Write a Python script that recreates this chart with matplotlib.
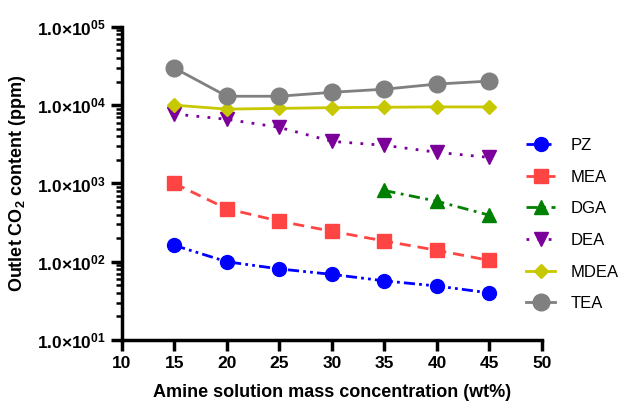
import math
import matplotlib
matplotlib.use("Agg")
import matplotlib.pyplot as plt
from matplotlib.ticker import FixedLocator, FuncFormatter, LogLocator, NullFormatter

plt.rcParams['font.family'] = ['Liberation Sans', 'DejaVu Sans']
plt.rcParams['mathtext.fontset'] = 'custom'
plt.rcParams['mathtext.rm'] = 'Liberation Sans'
plt.rcParams['mathtext.bf'] = 'Liberation Sans:bold'

# data
conc = [15, 20, 25, 30, 35, 40, 45]
pz = [162, 100, 81, 69, 57, 49, 40]
mea = [1000, 475, 330, 245, 184, 140, 104]
dga_conc = [35, 40, 45]
dga = [813, 593, 393]
dea = [7700, 6600, 5200, 3450, 3070, 2500, 2150]
mdea = [10000, 8900, 9100, 9300, 9400, 9500, 9500]
tea = [29800, 13000, 13000, 14600, 16000, 18600, 20300]

fig = plt.figure(figsize=(6.28, 4.01), dpi=100)
ax = fig.add_axes([0.194, 0.152, 0.669, 0.781])

ms = 10
ax.plot(conc, pz, color='#0000ff', lw=2, ls=(0, (4, 1.5, 1, 1.5, 1, 1.5)), marker='o', ms=ms, label='PZ')
ax.plot(conc, mea, color='#ff4444', lw=2, ls=(0, (4, 2.5)), marker='s', ms=ms, label='MEA')
ax.plot(dga_conc, dga, color='#008000', lw=2, ls=(0, (4, 2, 1, 2)), marker='^', ms=ms, label='DGA')
ax.plot(conc, dea, color='#7b0099', lw=2, ls=(0, (1, 3)), marker='v', ms=ms, label='DEA')
ax.plot(conc, mdea, color='#c8c800', lw=2, ls='-', marker='D', ms=7.5, label='MDEA')
ax.plot(conc, tea, color='#808080', lw=2, ls='-', marker='o', ms=12, label='TEA')

ax.set_yscale('log')
ax.set_ylim(10, 1e5)
ax.set_xlim(10, 50)
ax.xaxis.set_major_locator(FixedLocator([10, 15, 20, 25, 30, 35, 40, 45, 50]))
ax.yaxis.set_major_locator(FixedLocator([1e1, 1e2, 1e3, 1e4, 1e5]))
ax.yaxis.set_minor_locator(LogLocator(base=10, subs=range(2, 10)))
ax.yaxis.set_minor_formatter(NullFormatter())

def fmt(v, pos):
    e = int(round(math.log10(v)))
    return r'$\mathbf{1.0{\times}10^{%02d}}$' % e

ax.yaxis.set_major_formatter(FuncFormatter(fmt))

for s in ['top', 'right']:
    ax.spines[s].set_visible(False)
for s in ['left', 'bottom']:
    ax.spines[s].set_linewidth(2.5)
ax.tick_params(which='major', width=2.5, length=8, labelsize=12.5)
ax.tick_params(which='minor', width=1.8, length=4)
for lab in ax.get_xticklabels():
    lab.set_fontweight('bold')

ax.set_xlabel('Amine solution mass concentration (wt%)', fontsize=13, fontweight='bold', labelpad=9)
ax.set_ylabel(r'Outlet CO$_\mathbf{2}$ content (ppm)', fontsize=13, fontweight='bold', labelpad=6)

fig.legend(loc='center left', bbox_to_anchor=(0.814, 0.44), frameon=False, fontsize=12,
           handlelength=1.75, labelspacing=1.0, handletextpad=0.9)

fig.savefig('out.png', dpi=100)
